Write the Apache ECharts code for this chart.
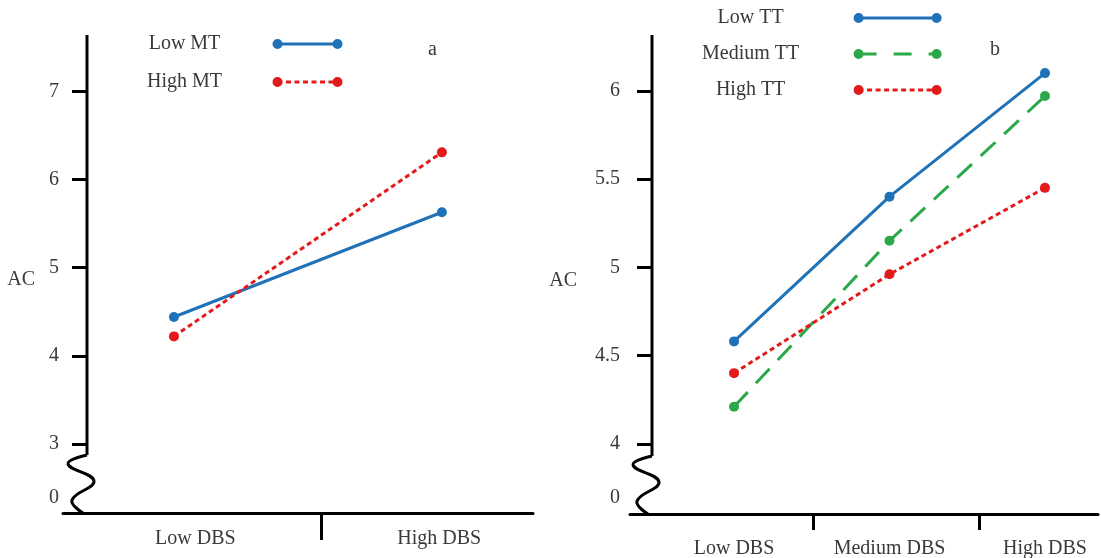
<!DOCTYPE html>
<html>
<head>
<meta charset="utf-8">
<script src="https://cdn.jsdelivr.net/npm/echarts@6/dist/echarts.min.js"></script>
<style>
  html, body { margin: 0; padding: 0; background: #fff; }
  #chart { width: 1101px; height: 558px; }
</style>
</head>
<body>
<div id="chart"></div>
<script>
// categories
const dbsA = ['Low DBS', 'High DBS']
const dbsB = ['Low DBS', 'Medium DBS', 'High DBS']

// AC values, panel a (moderator MT)
const lowMT = [4.44, 5.63]
const highMT = [4.22, 6.31]

// AC values, panel b (moderator TT)
const lowTT = [4.58, 5.40, 6.10]
const mediumTT = [4.21, 5.15, 5.97]
const highTT = [4.40, 4.96, 5.45]

// y tick labels (the "0" sits below the axis break)
const yTicksA = [3, 4, 5, 6, 7]
const yTicksB = [4, 4.5, 5, 5.5, 6]

// where the x labels / separators sit, in category units
const xLabelAtA = [0.08, 0.99]
const xLabelAtB = [0, 1, 2]
const xTickAtA = [0.55]
const xTickAtB = [0.51, 1.58]

const FONT = 'Liberation Serif'
const TEXT = '#3a3a3a'
const BLUE = '#1f72b8'
const RED = '#e31a1c'
const GREEN = '#2ba84a'

const GRID_A = { left: 63, top: 35, width: 470, height: 478 }
const GRID_B = { left: 630, top: 35, width: 468, height: 479 }
const SHIFT_A = 24   // y axis sits inside the x axis line
const SHIFT_B = 22
const ZERO_A = 2.384 // value where the "0" label is printed
const ZERO_B = 3.693

// legend sample: line between two dots, dashes drawn as little bars
function legendIcon (w, h, dash, gap) {
  const r = h / 2
  const lw = 1.5
  let d = `M0,${r}A${r},${r} 0 1,1 ${2 * r},${r}A${r},${r} 0 1,1 0,${r}Z`
  d += ` M${w - 2 * r},${r}A${r},${r} 0 1,1 ${w},${r}A${r},${r} 0 1,1 ${w - 2 * r},${r}Z`
  let x = r
  const end = w - r
  while (x < end) {
    const x2 = Math.min(x + dash, end)
    d += ` M${x},${r - lw}L${x2},${r - lw}L${x2},${r + lw}L${x},${r + lw}Z`
    x = x2 + gap
  }
  return 'path://' + d
}

function nearestLabel (v, at, names) {
  let best = 0
  at.forEach((p, i) => { if (Math.abs(p - v) < Math.abs(at[best] - v)) best = i })
  return names[best]
}

function xAxisOf (gridIndex, min, max, labelAt, names, tickAt, tickLen, margin) {
  return {
    type: 'value', gridIndex, min, max,
    axisLine: { show: true, onZero: false, lineStyle: { color: '#000', width: 3 } },
    axisTick: { show: true, customValues: tickAt, length: tickLen, lineStyle: { color: '#000', width: 3 } },
    axisLabel: {
      customValues: labelAt, margin,
      fontFamily: FONT, fontSize: 20, color: TEXT,
      formatter: v => nearestLabel(v, labelAt, names)
    },
    splitLine: { show: false }
  }
}

function yAxisOf (gridIndex, min, max, ticks, zeroAt, shift, nameGap, margin) {
  return {
    type: 'value', gridIndex, min, max,
    offset: -shift,
    name: 'AC', nameLocation: 'middle', nameRotate: 0, nameGap,
    nameTextStyle: { fontFamily: FONT, fontSize: 20, color: TEXT, verticalAlign: 'top', lineHeight: 12 },
    axisLine: { show: false, onZero: false },
    axisTick: { show: true, customValues: ticks, length: 15, lineStyle: { color: '#000', width: 3 } },
    axisLabel: {
      customValues: [zeroAt].concat(ticks), margin,
      fontFamily: FONT, fontSize: 20, color: TEXT,
      formatter: v => (v === zeroAt ? '0' : String(v))
    },
    splitLine: { show: false }
  }
}

function lineSeries (name, values, color, type, xi) {
  return {
    name, type: 'line', xAxisIndex: xi, yAxisIndex: xi,
    data: values.map((v, i) => [i, v]),
    symbol: 'circle', symbolSize: 10,
    itemStyle: { color, borderWidth: 0 },
    lineStyle: { color, width: 3, type, cap: 'butt' },
    emphasis: { disabled: true },
    silent: true, animation: false
  }
}

const legendText = (w) => ({
  fontFamily: FONT, fontSize: 20, color: TEXT,
  rich: { c: { width: w, align: 'center', fontFamily: FONT, fontSize: 20, color: TEXT } }
})

const chart = echarts.init(document.getElementById('chart'), null, { renderer: 'canvas' })

chart.setOption({
  backgroundColor: '#fff',
  animation: false,
  title: [
    { text: 'a', left: 423, top: 35, textStyle: { fontFamily: FONT, fontSize: 20, fontWeight: 'normal', color: TEXT } },
    { text: 'b', left: 985, top: 35, textStyle: { fontFamily: FONT, fontSize: 20, fontWeight: 'normal', color: TEXT } }
  ],
  legend: [
    {
      orient: 'vertical', align: 'right', left: 142, top: 29, itemGap: 18,
      itemWidth: 70, itemHeight: 10, selectedMode: false,
      itemStyle: { borderWidth: 0 },
      formatter: n => '{c|' + n + '}',
      textStyle: legendText(166),
      data: [
        { name: 'Low MT', icon: legendIcon(70, 10, 1000, 0) },
        { name: 'High MT', icon: legendIcon(70, 10, 5, 3.5) }
      ]
    },
    {
      orient: 'vertical', align: 'right', left: 697, top: 3, itemGap: 16,
      itemWidth: 88, itemHeight: 10, selectedMode: false,
      itemStyle: { borderWidth: 0 },
      formatter: n => '{c|' + n + '}',
      textStyle: legendText(196),
      data: [
        { name: 'Low TT', icon: legendIcon(88, 10, 1000, 0) },
        { name: 'Medium TT', icon: legendIcon(88, 10, 18, 17) },
        { name: 'High TT', icon: legendIcon(88, 10, 5, 3.5) }
      ]
    }
  ],
  grid: [
    Object.assign({ outerBoundsMode: 'none', containLabel: false }, GRID_A),
    Object.assign({ outerBoundsMode: 'none', containLabel: false }, GRID_B)
  ],
  xAxis: [
    xAxisOf(0, -0.414, 1.340, xLabelAtA, dbsA, xTickAtA, 27, 16),
    xAxisOf(1, -0.669, 2.341, xLabelAtB, dbsB, xTickAtB, 16, 25)
  ],
  yAxis: [
    yAxisOf(0, 2.214, 7.643, yTicksA, ZERO_A, SHIFT_A, 52, 28),
    yAxisOf(1, 3.602, 6.316, yTicksB, ZERO_B, SHIFT_B, 75, 32)
  ],
  series: [
    lineSeries('Low MT', lowMT, BLUE, 'solid', 0),
    lineSeries('High MT', highMT, RED, [5, 3.5], 0),
    lineSeries('Low TT', lowTT, BLUE, 'solid', 1),
    lineSeries('Medium TT', mediumTT, GREEN, [20, 12], 1),
    lineSeries('High TT', highTT, RED, [5, 3.5], 1)
  ]
})

// y axis line with the break squiggle at the bottom
function axisWithBreak (grid, shift, yi, min, max) {
  const x = grid.left + shift
  const top = chart.convertToPixel({ yAxisIndex: yi }, max)
  const bottom = chart.convertToPixel({ yAxisIndex: yi }, min)
  const y0 = bottom - 58
  const style = { stroke: '#000', lineWidth: 3, fill: null }
  return [
    { type: 'line', silent: true, shape: { x1: x, y1: top, x2: x, y2: y0 }, style },
    {
      type: 'polyline', silent: true,
      shape: {
        smooth: 0.45,
        points: [[x, y0], [x - 19, y0 + 9], [x + 7, y0 + 26], [x - 15, y0 + 45], [x - 4, bottom]]
      },
      style
    }
  ]
}

chart.setOption({
  graphic: axisWithBreak(GRID_A, SHIFT_A, 0, 2.214, 7.643)
    .concat(axisWithBreak(GRID_B, SHIFT_B, 1, 3.602, 6.316))
})
</script>
</body>
</html>
